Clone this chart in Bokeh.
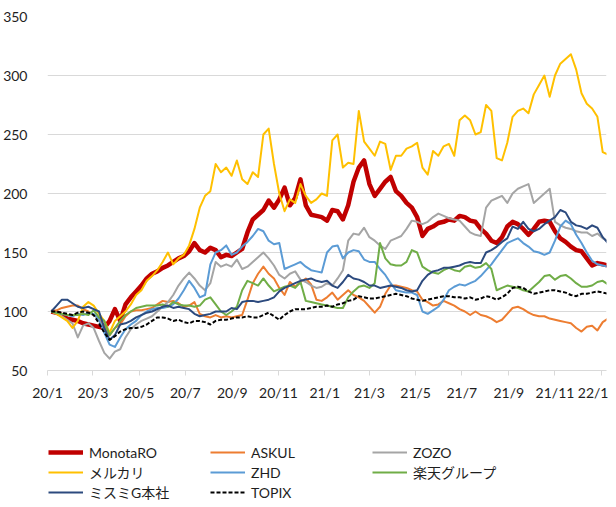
import datetime as dt
from bokeh.plotting import figure
from bokeh.layouts import column
from bokeh.models import FixedTicker, Legend, LegendItem, Range1d
from bokeh.embed import file_html
from bokeh.resources import INLINE

# ---- data (weekly closes, indexed to 100 at 2020-01-06) ----
start_date = dt.date(2020, 1, 6)
n_weeks = 106
dates = [start_date + dt.timedelta(days=7 * i) for i in range(n_weeks)]

monotaro = [100, 99, 97, 94, 93, 92, 90, 89, 88, 87, 86, 92, 102, 92, 106, 112, 117, 122, 128, 132,
            134, 137, 139, 142, 145, 147, 151, 158, 152, 150, 154, 152, 146, 148, 147, 150, 153, 167, 178, 182,
            186, 194, 188, 195, 205, 190, 196, 212, 190, 182, 181, 180, 177, 186, 185, 178, 190, 210, 222, 228,
            208, 198, 204, 210, 214, 202, 198, 192, 188, 180, 164, 170, 172, 175, 176, 178, 177, 181, 180, 177,
            176, 170, 166, 160, 158, 163, 172, 176, 174, 170, 165, 170, 176, 177, 176, 168, 162, 159, 155, 152,
            151, 145, 139, 141, 140, 139]
askul = [100, 101, 103, 104, 105, 105, 102, 100, 97, 94, 88, 80, 86, 89, 96, 100, 101, 101, 102, 103,
         106, 109, 108, 109, 107, 104, 105, 108, 98, 96, 95, 97, 95, 96, 95, 96, 97, 110, 124, 132,
         138, 132, 128, 120, 114, 125, 121, 125, 128, 123, 110, 109, 112, 116, 110, 114, 118, 114, 112, 109,
         104, 99, 104, 115, 122, 122, 121, 120, 118, 117, 110, 108, 105, 106, 109, 107, 105, 102, 100, 97,
         100, 97, 96, 94, 91, 93, 98, 103, 104, 102, 99, 97, 96, 96, 94, 93, 92, 91, 90, 86,
         83, 87, 88, 84, 91, 94]
zozo = [100, 98, 96, 93, 90, 78, 88, 90, 86, 75, 65, 60, 66, 68, 78, 85, 89, 92, 94, 96,
        100, 104, 108, 114, 122, 128, 133, 128, 122, 118, 124, 142, 138, 140, 138, 144, 136, 138, 142, 146,
        150, 145, 139, 131, 128, 132, 134, 127, 125, 122, 120, 121, 124, 122, 128, 135, 160, 166, 165, 171,
        163, 160, 156, 153, 160, 162, 164, 170, 177, 176, 174, 176, 180, 183, 181, 179, 178, 177, 172, 167,
        165, 164, 188, 194, 196, 198, 192, 200, 204, 206, 208, 192, 196, 200, 204, 176, 173, 171, 170, 168,
        167, 167, 164, 166, 162, 160]
mercari = [100, 98, 95, 92, 86, 92, 104, 108, 105, 98, 92, 82, 92, 96, 100, 106, 114, 118, 126, 130,
           135, 142, 150, 140, 145, 148, 156, 170, 188, 198, 202, 225, 218, 222, 215, 228, 212, 208, 218, 214,
           250, 255, 225, 200, 185, 195, 192, 208, 198, 192, 195, 200, 198, 245, 250, 222, 226, 225, 270, 244,
           238, 232, 244, 242, 220, 232, 232, 238, 240, 243, 222, 216, 236, 232, 240, 242, 232, 262, 266, 262,
           250, 252, 275, 270, 230, 228, 243, 265, 270, 272, 268, 284, 292, 300, 282, 300, 310, 314, 318, 305,
           285, 276, 272, 265, 235, 233]
zhd = [100, 99, 98, 97, 96, 98, 97, 99, 98, 93, 82, 72, 70, 78, 85, 89, 92, 97, 100, 102,
       103, 103, 104, 106, 111, 118, 126, 120, 112, 114, 140, 150, 152, 156, 148, 150, 155, 159, 164, 170,
       168, 160, 157, 158, 136, 138, 140, 142, 138, 135, 134, 133, 150, 155, 156, 145, 150, 152, 151, 144,
       142, 142, 136, 131, 124, 118, 117, 116, 116, 114, 100, 98, 101, 104, 110, 118, 121, 123, 122, 124,
       126, 130, 135, 140, 146, 152, 158, 160, 162, 158, 155, 151, 150, 148, 150, 160, 172, 177, 174, 165,
       158, 150, 143, 140, 139, 138]
rakuten = [100, 99, 98, 97, 97, 97, 98, 97, 101, 95, 92, 80, 86, 92, 97, 100, 103, 104, 105, 105,
           105, 106, 104, 108, 106, 105, 105, 104, 105, 110, 112, 106, 100, 97, 100, 104, 118, 126, 124, 122,
           128, 122, 117, 119, 121, 122, 120, 125, 109, 108, 107, 106, 105, 104, 103, 103, 112, 117, 121, 122,
           120, 124, 158, 145, 140, 139, 139, 142, 152, 150, 138, 135, 133, 132, 135, 137, 135, 134, 138, 139,
           137, 138, 141, 136, 118, 120, 122, 121, 120, 118, 117, 121, 125, 130, 131, 127, 130, 131, 128, 124,
           121, 121, 122, 125, 126, 123]
misumi = [100, 105, 110, 110, 107, 104, 103, 104, 102, 100, 86, 76, 80, 89, 90, 92, 95, 97, 99, 100,
          102, 104, 105, 103, 104, 103, 102, 98, 96, 97, 98, 100, 100, 100, 103, 102, 108, 109, 109, 108,
          109, 110, 112, 117, 120, 122, 124, 126, 127, 128, 126, 125, 126, 122, 120, 125, 131, 128, 127, 125,
          122, 122, 120, 121, 122, 121, 120, 118, 117, 118, 126, 131, 134, 135, 137, 137, 138, 139, 141, 142,
          141, 141, 150, 152, 155, 159, 162, 172, 170, 176, 170, 168, 170, 174, 177, 180, 186, 184, 176, 173,
          172, 170, 173, 171, 163, 158]
topix = [100, 100, 99, 98, 97, 99, 100, 99, 97, 90, 82, 76, 79, 83, 85, 86, 86, 87, 89, 92,
         95, 95, 94, 92, 93, 91, 90, 92, 92, 91, 89, 92, 93, 93, 94, 95, 95, 96, 95, 95,
         97, 99, 96, 93, 97, 100, 102, 102, 102, 103, 104, 104, 105, 104, 106, 107, 109, 110, 113, 112,
         111, 111, 112, 113, 114, 115, 114, 113, 111, 110, 109, 110, 111, 112, 113, 113, 112, 112, 111, 112,
         110, 111, 113, 112, 110, 112, 115, 120, 121, 120, 117, 115, 116, 117, 118, 118, 117, 116, 114, 113,
         115, 115, 116, 117, 116, 115]

series_names = ["MonotaRO", "ASKUL", "ZOZO", "メルカリ", "ZHD", "楽天グループ", "ミスミG本社", "TOPIX"]
series_values = [monotaro, askul, zozo, mercari, zhd, rakuten, misumi, topix]

tick_months = [(2020, 1), (2020, 3), (2020, 5), (2020, 7), (2020, 9), (2020, 11),
               (2021, 1), (2021, 3), (2021, 5), (2021, 7), (2021, 9), (2021, 11), (2022, 1)]
tick_labels = ["20/1", "20/3", "20/5", "20/7", "20/9", "20/11",
               "21/1", "21/3", "21/5", "21/7", "21/9", "21/11", "22/1"]
y_ticks = [50, 100, 150, 200, 250, 300, 350]

# ---- styling ----
colors = ["#C00000", "#ED7D31", "#A5A5A5", "#FFC000", "#5B9BD5", "#70AD47", "#2C4A7E", "#000000"]
widths = [4.5, 2, 2, 2, 2, 2, 2, 2]
dashes = ["solid"] * 7 + ["4 2"]
FONT = "Lato, 'Noto Sans CJK JP', sans-serif"
TEXT = "#1e1e1e"
FS = "14px"

origin = dt.date(2020, 1, 1)
xs = [(d - origin).days for d in dates]
tick_pos = [(dt.date(y, m, 1) - origin).days for (y, m) in tick_months]

# ---- main chart ----
p = figure(width=608, height=403, output_backend="svg", toolbar_location=None,
           x_range=Range1d(0, 738), y_range=Range1d(50, 350),
           min_border_left=47, min_border_right=2, min_border_top=16, min_border_bottom=30)
p.outline_line_color = None
p.background_fill_color = "white"
p.border_fill_color = "white"

for name, vals, c, w, d in zip(series_names, series_values, colors, widths, dashes):
    p.line(xs, vals, line_color=c, line_width=w, line_dash=d, line_join="round")

p.xgrid.visible = False
p.ygrid.grid_line_color = "#D9D9D9"
p.ygrid.grid_line_width = 1
p.yaxis.ticker = FixedTicker(ticks=y_ticks)
p.yaxis.axis_line_color = None
p.yaxis.major_tick_line_color = None
p.yaxis.minor_tick_line_color = None
p.yaxis.major_label_standoff = 14
p.yaxis.major_label_text_font = FONT
p.yaxis.major_label_text_font_size = FS
p.yaxis.major_label_text_color = TEXT

p.xaxis.ticker = FixedTicker(ticks=tick_pos)
p.xaxis.major_label_overrides = {tp: lab for tp, lab in zip(tick_pos, tick_labels)}
p.xaxis.axis_line_color = "#D9D9D9"
p.xaxis.major_tick_line_color = "#D9D9D9"
p.xaxis.major_tick_in = 0
p.xaxis.major_tick_out = 5
p.xaxis.minor_tick_line_color = None
p.xaxis.major_label_standoff = 8
p.xaxis.major_label_text_font = FONT
p.xaxis.major_label_text_font_size = FS
p.xaxis.major_label_text_color = TEXT

# ---- legend strip (separate figure below the chart; its view range shows no data) ----
lg = figure(width=608, height=103, output_backend="svg", toolbar_location=None,
            x_axis_type=None, y_axis_type=None,
            x_range=Range1d(-20, -10), y_range=Range1d(0, 1),
            min_border_left=47, min_border_right=2, min_border_top=0, min_border_bottom=0)
lg.outline_line_color = None
lg.xgrid.visible = False
lg.ygrid.visible = False

items = []
for name, vals, c, w, d in zip(series_names, series_values, colors, widths, dashes):
    r = lg.line(xs, vals, line_color=c, line_width=w, line_dash=d)
    items.append(LegendItem(label=name, renderers=[r]))

legend = Legend(items=items, orientation="horizontal", ncols=3,
                location=(1, 4), glyph_width=35, glyph_height=20,
                label_height=20, label_width=121, label_standoff=6, spacing=0,
                padding=0, margin=0, border_line_color=None, background_fill_alpha=0,
                label_text_font=FONT, label_text_font_size=FS, label_text_color=TEXT)
lg.add_layout(legend, "center")

layout = column(p, lg, spacing=0)
open("out.html", "w").write(file_html(layout, INLINE))
